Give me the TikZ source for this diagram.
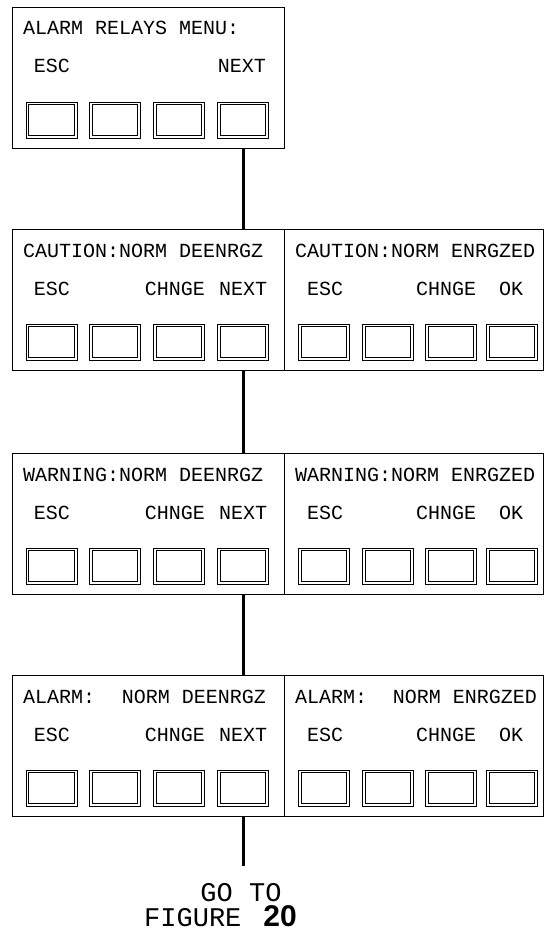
\documentclass[tikz,border=0pt]{standalone}
\usepackage{fontspec}
\newfontfamily\lmono{Liberation Mono}
\newfontfamily\lsans{Liberation Sans}
\begin{document}
\begin{tikzpicture}[x=1pt,y=-1pt,
  panel/.style={draw, line width=1.1pt, inner sep=0, anchor=north west, minimum height=141pt},
  btn/.style={draw, line width=0.7pt, minimum width=51pt, minimum height=36pt, inner sep=0},
  btnin/.style={line width=1.1pt},
  ttl/.style={anchor=base west, inner sep=0, font=\lmono\fontsize{20}{24}\selectfont},
  ttr/.style={anchor=base east, inner sep=0, font=\lmono\fontsize{20}{24}\selectfont},
  lbl/.style={anchor=base, inner sep=0, font=\lmono\fontsize{20}{24}\selectfont},
  big/.style={inner sep=0, font=\lmono\fontsize{27}{31}\selectfont},
  conn/.style={line width=3pt}
]
\useasboundingbox (0,0) rectangle (544,941);

% top menu box
\node[panel, minimum width=272pt] (top) at (12,7) {};
\node[ttl] (topt) at (23,35) {ALARM RELAYS MENU:};
\node[lbl] (tesc) at (52,73) {ESC};
\node[lbl] (tnext) at (242,73) {NEXT};
\foreach \i/\x in {1/51.5,2/115,3/179,4/243}{
  \node[btn] (t-b\i) at (\x,120) {};
  \draw[btnin] ([shift={(3,3)}]t-b\i.north west) rectangle ([shift={(-3,-3)}]t-b\i.south east);
}

% three rows of paired panels
\foreach \r/\T in {c/229,w/453,a/675}{
  \node[panel, minimum width=272pt] (\r-L) at (12,\T) {};
  \node[panel, minimum width=259pt] (\r-R) at (284,\T) {};
  \node[lbl] (\r-le) at (52,\T+66) {ESC};
  \node[lbl] (\r-lc) at (175,\T+66) {CHNGE};
  \node[lbl] (\r-ln) at (243,\T+66) {NEXT};
  \node[lbl] (\r-re) at (325,\T+66) {ESC};
  \node[lbl] (\r-rc) at (446,\T+66) {CHNGE};
  \node[lbl] (\r-ro) at (511,\T+66) {OK};
  \foreach \i/\x in {1/51.5,2/115,3/179,4/243}{
    \node[btn] (\r-l\i) at (\x,\T+113) {};
    \draw[btnin] ([shift={(3,3)}]\r-l\i.north west) rectangle ([shift={(-3,-3)}]\r-l\i.south east);
  }
  \foreach \i/\x in {1/324,2/388,3/451,4/512}{
    \node[btn] (\r-r\i) at (\x,\T+113) {};
    \draw[btnin] ([shift={(3,3)}]\r-r\i.north west) rectangle ([shift={(-3,-3)}]\r-r\i.south east);
  }
}

% titles
\node[ttl] (c-tl) at (23,257) {CAUTION:NORM DEENRGZ};
\node[ttl] (c-tr) at (295,257) {CAUTION:NORM ENRGZED};
\node[ttl] (w-tl) at (23,481) {WARNING:NORM DEENRGZ};
\node[ttl] (w-tr) at (295,481) {WARNING:NORM ENRGZED};
\node[ttl] (a-tl) at (23,703) {ALARM:};
\node[ttr] (a-tl2) at (266,703) {NORM DEENRGZ};
\node[ttl] (a-tr) at (295,703) {ALARM:};
\node[ttr] (a-tr2) at (537,703) {NORM ENRGZED};

% footer text
\node[big, anchor=base] (goto) at (241,901) {GO TO};
\node[big, anchor=base west] (fig) at (144,926) {FIGURE};
\node[inner sep=0, anchor=base east, font=\lsans\bfseries\fontsize{30}{34}\selectfont] (fnum) at (297,926) {20};

% connectors
\coordinate (endc) at (243,866);
\draw[conn] (top.south -| t-b4) -- (c-L.north -| t-b4);
\draw[conn] (c-L.south -| c-l4) -- (w-L.north -| c-l4);
\draw[conn] (w-L.south -| w-l4) -- (a-L.north -| w-l4);
\draw[conn] (a-L.south -| a-l4) -- (endc);
\end{tikzpicture}
\end{document}
